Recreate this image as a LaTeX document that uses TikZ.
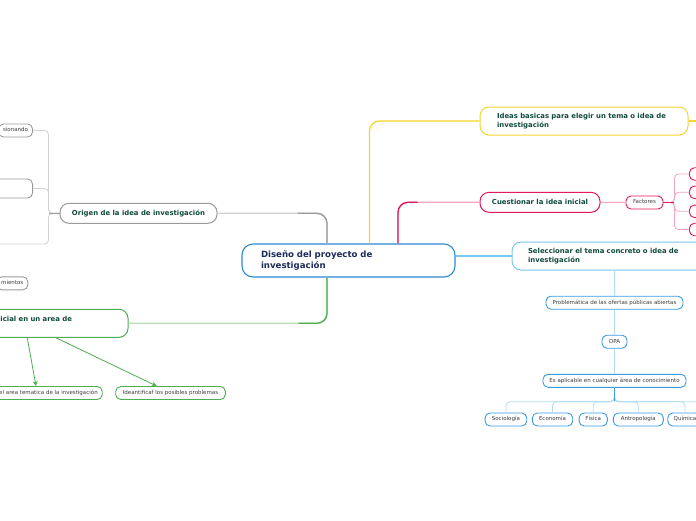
\documentclass[tikz,border=0pt]{standalone}
\usepackage{fontspec}
\setsansfont{DejaVu Sans}
\usetikzlibrary{arrows.meta}
\definecolor{rootc}{HTML}{2B8AD6}
\definecolor{navy}{HTML}{1C2B5A}
\definecolor{ink}{HTML}{0F4A3C}
\definecolor{txt}{HTML}{3C3C3C}
\definecolor{yel}{HTML}{F6D32D}
\definecolor{crim}{HTML}{E3195F}
\definecolor{pinkl}{HTML}{F5A3BF}
\definecolor{skyc}{HTML}{7CC6F2}
\definecolor{skyl}{HTML}{B3DCF5}
\definecolor{bluec}{HTML}{3A9BE3}
\definecolor{greyc}{HTML}{9A9A9A}
\definecolor{greyl}{HTML}{D2D2D2}
\definecolor{grn}{HTML}{4CAF50}
\definecolor{grnl}{HTML}{BBDDB5}
\tikzset{
  hub/.style={draw=rootc,fill=white,line width=1.1pt,rounded corners=11pt,minimum width=213pt,minimum height=33pt,
              inner xsep=19pt,text width=175pt,align=left,font=\sffamily\bfseries\fontsize{8.6}{10.8}\selectfont,text=navy},
  topic/.style={draw=#1,fill=white,line width=1pt,rounded corners=9pt,align=left,inner ysep=0pt,
              font=\sffamily\bfseries\fontsize{6.9}{9}\selectfont,text=ink},
  leaf/.style={draw=#1,fill=white,line width=0.9pt,rounded corners=5pt,minimum height=13pt,inner xsep=4.5pt,inner ysep=0pt,
              text height=4pt,text depth=1.2pt,font=\sffamily\fontsize{5.5}{6.5}\selectfont,text=txt},
  link/.style={draw=#1,line width=1.3pt,rounded corners=10pt},
  twig/.style={draw=#1,line width=0.8pt,rounded corners=4pt},
  garrow/.style={-{Stealth[length=5pt,width=5pt]},draw=grn,line width=0.8pt},
}
\begin{document}
\begin{tikzpicture}[x=1pt,y=-1pt]
  \fill[white] (0,0) rectangle (696,520);
  \useasboundingbox (0,0) rectangle (696,520);
  \clip (0,0) rectangle (696,520);
  % main topics
  \node[hub] (root) at (348.5,260.5) {Diseño del proyecto de\\investigación};
  \node[topic=yel,minimum width=208pt,minimum height=28pt,inner xsep=17pt,text width=174pt] (ideas) at (584,121) {Ideas basicas para elegir un tema o idea de\\investigación};
  \node[topic=crim,minimum width=120pt,minimum height=20pt,align=center] (cuest) at (540,202.3) {Cuestionar la idea inicial};
  \node[topic=skyc,minimum width=200pt,minimum height=28pt,inner xsep=16pt,text width=168pt] (selec) at (612,256) {Seleccionar el tema concreto o idea de\\investigación};
  \node[topic=greyc,minimum width=157pt,minimum height=20pt,align=center] (origen) at (138.5,213.3) {Origen de la idea de investigación};
  \node[topic=grn,minimum height=28pt,inner xsep=20pt,text width=107.5pt] (inicial) at (54.25,323.3) {icial en un area de\\\mbox{}};
  \coordinate (ideasout) at (720,121);
  % links from the root
  \draw[link=yel] ([xshift=21pt]root.north) |- (ideas.west);
  \draw[link=yel] (ideas.east) -- (ideasout);
  \draw[link=pinkl] ([xshift=49.5pt]root.north) |- (cuest.west);
  \draw[link=crim] ([xshift=49.5pt]root.north) |- ([xshift=-62pt]cuest.west);
  \draw[link=skyc] (root.east |- selec.west) -- (selec.west);
  \draw[link=greyl] ([xshift=-21.5pt]root.north) |- (origen.east);
  \draw[link=greyc] ([xshift=-21.5pt]root.north) |- ([xshift=80pt]origen.east);
  \draw[link=grnl] ([xshift=-21.5pt]root.south) |- (inicial.east);
  \draw[link=grn] ([xshift=-21.5pt]root.south) |- ([xshift=170pt]inicial.east);
  % factores
  \node[leaf=crim,minimum width=37pt] (fact) at (644.5,202.5) {Factores};
  \draw[line width=1pt,pinkl] (cuest.east) -- (fact.west);
  \foreach \y [count=\i] in {174,192.3,211.3,229.5}{
    \node[leaf=crim,minimum width=30pt,minimum height=12.5pt,anchor=west] (f\i) at (689,\y) {};
    \draw[twig=pinkl] (fact.east) -- ++(11,0) |- (f\i.west);
  }
  \draw[line width=1pt,crim] (fact.east) -- ++(11,0);
  % seleccionar
  \node[leaf=bluec,minimum width=137pt] (prob) at (614.5,302.7) {Problemática de las ofertas públicas abiertas};
  \node[leaf=bluec,minimum width=25pt] (opa) at (614.5,341.7) {OPA};
  \node[leaf=bluec,minimum width=143pt] (aplic) at (614.5,380.8) {Es aplicable en cualquier área de conocimiento};
  \draw[line width=1pt,skyl] (prob.north |- selec.south) -- (prob.north);
  \draw[line width=1pt,skyl] (prob.south) -- (opa.north);
  \draw[line width=1pt,skyl] (opa.south) -- (aplic.north);
  \foreach \n/\t/\x/\w in {soc/Sociología/505.9/41.7,eco/Economía/552.5/40.4,fis/Física/593.2/28.3,ant/Antropología/638.3/50,qui/Química/685/34.6}{
    \node[leaf=bluec,minimum width=\w pt] (\n) at (\x,419.5) {\t};
    \draw[twig=skyl] (aplic.south) -- ++(0,14) -| (\n.north);
  }
  \coordinate (more) at (740,419.5);
  \draw[twig=skyl] (aplic.south) -- ++(0,14) -| (more);
  \draw[line width=1.3pt,bluec] (aplic.south) -- ++(0,13);
  % origen
  \node[leaf=greyc,anchor=east] (o1) at (33,130.5) {sionando};
  \node[leaf=greyc,anchor=east,minimum width=70pt,minimum height=19pt] (o2) at (33,188.5) {};
  \coordinate (o3) at (-20,244);
  \draw[twig=greyl] (origen.west) -- ++(-11,0) |- (o1.east);
  \draw[twig=greyl] (origen.west) -- ++(-11,0) |- (o2.east);
  \draw[twig=greyl] (origen.west) -- ++(-11,0) |- (o3);
  \draw[line width=0.8pt,greyc] (origen.west) -- ++(-11,0);
  \node[leaf=greyc,anchor=east] (conoc) at (28.3,283.3) {mientos};
  % inicial
  \node[leaf=grn,anchor=east] (tema) at (102.7,393) {el area tematica de la investigación};
  \node[leaf=grn,minimum width=109.6pt] (probl) at (170.5,393) {Ideantificaf los posibles problemas};
  \draw[garrow] ([xshift=-27pt]inicial.south) -- ([xshift=-66.7pt]tema.north east);
  \draw[garrow] ([xshift=1.75pt]inicial.south) -- ([xshift=-13.8pt]probl.north);
\end{tikzpicture}
\end{document}
